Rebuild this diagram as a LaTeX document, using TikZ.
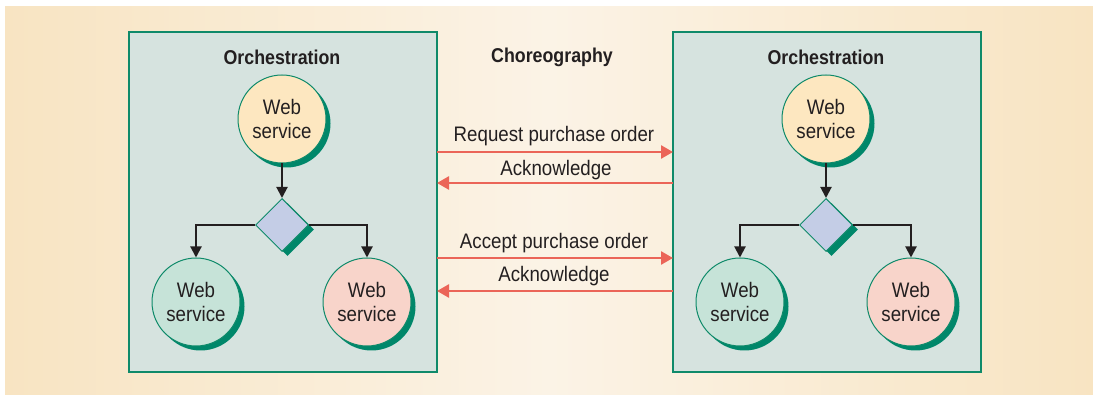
\documentclass[tikz,border=0pt]{standalone}
\usepackage{fontspec}
\setmainfont[FakeStretch=0.89]{Liberation Sans}
\usetikzlibrary{shapes.geometric,arrows.meta}
\definecolor{bgA}{HTML}{F8E4C2}
\definecolor{bgB}{HTML}{FBF3E6}
\definecolor{boxfill}{HTML}{D6E3DF}
\definecolor{boxline}{HTML}{0F8A6A}
\definecolor{shade}{HTML}{00876A}
\definecolor{wsY}{HTML}{FDE7C0}
\definecolor{wsG}{HTML}{C6E3D8}
\definecolor{wsR}{HTML}{F8D4CA}
\definecolor{dia}{HTML}{C4CDE6}
\definecolor{redarr}{HTML}{EB6558}
\definecolor{ink}{HTML}{231F20}
\tikzset{
  orbox/.style={draw=boxline, line width=1.3pt, fill=boxfill},
  ws/.style={circle, draw=boxline, line width=1pt, minimum size=88pt, inner sep=0pt,
    align=center, font=\fontsize{21}{24.5}\selectfont, text=ink},
  wsshadow/.style={circle, fill=shade, minimum size=88pt, inner sep=0pt},
  dec/.style={diamond, draw=boxline, line width=1pt, fill=dia, minimum size=53pt, inner sep=0pt},
  decshadow/.style={diamond, fill=shade, minimum size=53pt, inner sep=0pt},
  flow/.style={draw=ink, line width=2pt, -{Triangle[length=11pt,width=11pt]}},
  msg/.style={draw=redarr, line width=2.6pt, -{Triangle[length=12pt,width=13pt]}},
  title/.style={font=\bfseries\fontsize{20}{24}\selectfont, text=ink},
  msglabel/.style={font=\fontsize{21}{24}\selectfont, text=ink},
}
\begin{document}
\begin{tikzpicture}[x=1pt,y=-1pt]
\useasboundingbox (0,0) rectangle (1093,395);
\fill[white] (0,0) rectangle (1093,395);
\shade[left color=bgA, right color=bgA, middle color=bgB] (5,7) rectangle (1093,395);

\foreach \dx/\nm in {0/L,544/R}{
  \begin{scope}[xshift=\dx]
  \draw[orbox] (129,32) rectangle (437,372);
  \node[title] (orch\nm) at (282,57) {Orchestration};
  % shadows
  \node[wsshadow] at (286.5,123.5) {};
  \node[wsshadow] at (200.5,306.5) {};
  \node[wsshadow] at (371.5,306.5) {};
  \node[decshadow] at (287.5,229.5) {};
  \node[ws, fill=wsY] (top\nm) at (282,119) {Web\\service};
  \node[ws, fill=wsG] (bl\nm) at (196,302) {Web\\service};
  \node[ws, fill=wsR] (br\nm) at (367,302) {Web\\service};
  \node[dec] (d\nm) at (282,225) {};
  \end{scope}
}
\foreach \nm in {L,R}{
  \draw[flow] (top\nm.south) -- (d\nm.north);
  \draw[flow] (d\nm.west) -| (bl\nm.north);
  \draw[flow] (d\nm.east) -| (br\nm.north);
}
\node[title] (choreo) at (552,57) {Choreography};

\coordinate (a1s) at (437,152); \coordinate (a1e) at (673,152);
\coordinate (a2s) at (673,183); \coordinate (a2e) at (437,183);
\coordinate (a3s) at (437,258); \coordinate (a3e) at (673,258);
\coordinate (a4s) at (673,291); \coordinate (a4e) at (437,291);
\draw[msg] (a1s) -- (a1e);
\draw[msg] (a2s) -- (a2e);
\draw[msg] (a3s) -- (a3e);
\draw[msg] (a4s) -- (a4e);
\node[msglabel] (l1) at (554,136) {Request purchase order};
\node[msglabel] (l2) at (556,170) {Acknowledge};
\node[msglabel] (l3) at (554,243) {Accept purchase order};
\node[msglabel] (l4) at (554,276) {Acknowledge};
\end{tikzpicture}
\end{document}
